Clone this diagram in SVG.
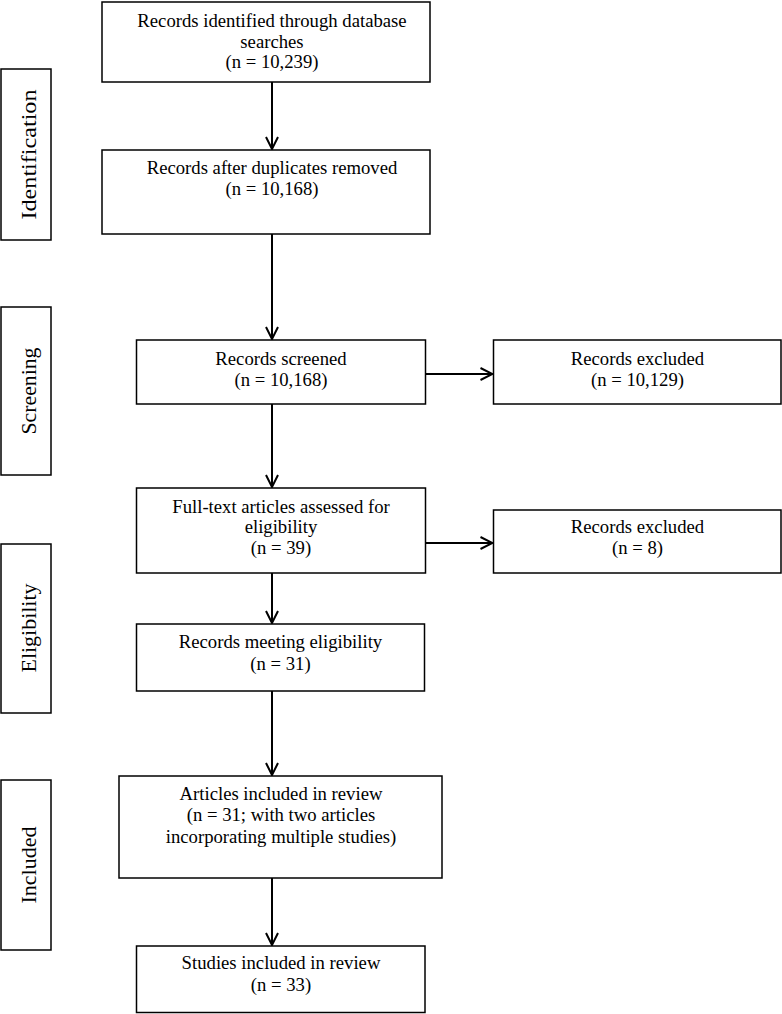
<svg xmlns="http://www.w3.org/2000/svg" width="782" height="1014" viewBox="0 0 782 1014">
<style>
.box{fill:#fff;stroke:#000;stroke-width:1.5}
.t{font-family:"Liberation Serif","Times New Roman",serif;font-size:18.7px;fill:#000;text-anchor:middle}
.lab{font-family:"Liberation Serif","Times New Roman",serif;font-size:22px;fill:#000;text-anchor:middle}
.c{fill:none;stroke:#000;stroke-width:2}
</style>
<defs>
<marker id="arr" viewBox="0 0 14 14" refX="13" refY="7" markerWidth="14" markerHeight="14" markerUnits="userSpaceOnUse" orient="auto">
<path d="M1,1 L13,7 L1,13" fill="none" stroke="#000" stroke-width="2"/>
</marker>
</defs>
<rect width="782" height="1014" fill="#fff"/>
<g id="stage-identification">
<rect class="box" x="1" y="69" width="50" height="171"/>
<text class="lab" transform="translate(36,154.5) rotate(-90)" textLength="130" lengthAdjust="spacingAndGlyphs">Identification</text>
</g>
<g id="stage-screening">
<rect class="box" x="1" y="307" width="50" height="168"/>
<text class="lab" transform="translate(36,391) rotate(-90)" textLength="87" lengthAdjust="spacingAndGlyphs">Screening</text>
</g>
<g id="stage-eligibility">
<rect class="box" x="1" y="544" width="50" height="169"/>
<text class="lab" transform="translate(36,628) rotate(-90)" textLength="89" lengthAdjust="spacingAndGlyphs">Eligibility</text>
</g>
<g id="stage-included">
<rect class="box" x="1" y="780" width="50" height="170"/>
<text class="lab" transform="translate(36,865) rotate(-90)" textLength="77" lengthAdjust="spacingAndGlyphs">Included</text>
</g>
<g id="n-identified">
<rect class="box" x="102" y="2" width="328" height="80"/>
<text class="t" x="272" y="27">Records identified through database</text>
<text class="t" x="272" y="47.5">searches</text>
<text class="t" x="272" y="68">(n = 10,239)</text>
</g>
<g id="n-deduplicated">
<rect class="box" x="102" y="150" width="328" height="84"/>
<text class="t" x="272" y="174">Records after duplicates removed</text>
<text class="t" x="272" y="195">(n = 10,168)</text>
</g>
<g id="n-screened">
<rect class="box" x="136.5" y="340" width="289" height="64"/>
<text class="t" x="281" y="364.5">Records screened</text>
<text class="t" x="281" y="385.5">(n = 10,168)</text>
</g>
<g id="n-excluded1">
<rect class="box" x="493.5" y="340" width="287.5" height="64"/>
<text class="t" x="637.5" y="364.5">Records excluded</text>
<text class="t" x="637.5" y="385.5">(n = 10,129)</text>
</g>
<g id="n-fulltext">
<rect class="box" x="136.5" y="488" width="289" height="85"/>
<text class="t" x="281" y="512.5">Full-text articles assessed for</text>
<text class="t" x="281" y="533">eligibility</text>
<text class="t" x="281" y="554">(n = 39)</text>
</g>
<g id="n-excluded2">
<rect class="box" x="493.5" y="510" width="287.5" height="63"/>
<text class="t" x="637.5" y="533">Records excluded</text>
<text class="t" x="637.5" y="554">(n = 8)</text>
</g>
<g id="n-eligible">
<rect class="box" x="136.5" y="624" width="288" height="67"/>
<text class="t" x="280.5" y="648">Records meeting eligibility</text>
<text class="t" x="280.5" y="670">(n = 31)</text>
</g>
<g id="n-articles">
<rect class="box" x="119" y="776" width="323" height="102"/>
<text class="t" x="281" y="800">Articles included in review</text>
<text class="t" x="281" y="821">(n = 31; with two articles</text>
<text class="t" x="281" y="842.5">incorporating multiple studies)</text>
</g>
<g id="n-studies">
<rect class="box" x="136.5" y="946" width="288.5" height="66.5"/>
<text class="t" x="281" y="969">Studies included in review</text>
<text class="t" x="281" y="990.5">(n = 33)</text>
</g>
<g id="connectors">
<line class="c" x1="272" y1="82" x2="272" y2="149" marker-end="url(#arr)"/>
<line class="c" x1="272" y1="234" x2="272" y2="339" marker-end="url(#arr)"/>
<line class="c" x1="425.5" y1="374" x2="492.5" y2="374" marker-end="url(#arr)"/>
<line class="c" x1="272" y1="404" x2="272" y2="487" marker-end="url(#arr)"/>
<line class="c" x1="425.5" y1="543" x2="492.5" y2="543" marker-end="url(#arr)"/>
<line class="c" x1="272" y1="573" x2="272" y2="623" marker-end="url(#arr)"/>
<line class="c" x1="272" y1="691" x2="272" y2="775" marker-end="url(#arr)"/>
<line class="c" x1="272" y1="878" x2="272" y2="945" marker-end="url(#arr)"/>
</g>
</svg>
